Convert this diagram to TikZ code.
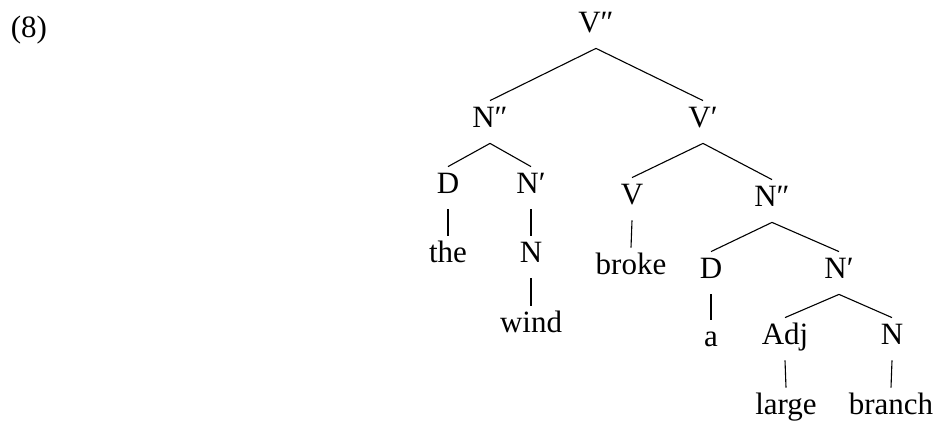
\documentclass[tikz,border=0pt]{standalone}
\usepackage{fontspec}
\setmainfont{Liberation Serif}
\begin{document}
\begin{tikzpicture}[x=0.5pt,y=-0.5pt,
  lab/.style={inner sep=0pt,anchor=base,text height=13.5pt,text depth=7.5pt,font=\fontsize{15.5}{18}\selectfont},
  edge/.style={draw=black,line width=0.55pt}]
\useasboundingbox (0,0) rectangle (937,421);
\node[lab] (ex) at (29,38) {(8)};
\node[lab] (vpp) at (596,33) {V″};
\node[lab] (nppa) at (490,128) {N″};
\node[lab] (da) at (448,194) {D};
\node[lab] (npa) at (531,194) {N′};
\node[lab] (the) at (448,263) {the};
\node[lab] (na) at (531,263) {N};
\node[lab] (wind) at (531,333) {wind};
\node[lab] (vp) at (703,128) {V′};
\node[lab] (v) at (632,205) {V};
\node[lab] (broke) at (631,275) {broke};
\node[lab] (nppb) at (772,207) {N″};
\node[lab] (db) at (711,279) {D};
\node[lab] (npb) at (839,279) {N′};
\node[lab] (a) at (711,347) {a};
\node[lab] (adj) at (785,345) {Adj};
\node[lab] (nb) at (892,345) {N};
\node[lab] (large) at (786,415) {large};
\node[lab] (branch) at (891,415) {branch};
\foreach \p/\c in {vpp/nppa, vpp/vp, nppa/da, nppa/npa, da/the, npa/na, na/wind,
  vp/v, vp/nppb, v/broke, nppb/db, nppb/npb, db/a, npb/adj, npb/nb, adj/large, nb/branch}
  \draw[edge] (\p.south) -- (\c.north);
\end{tikzpicture}
\end{document}
